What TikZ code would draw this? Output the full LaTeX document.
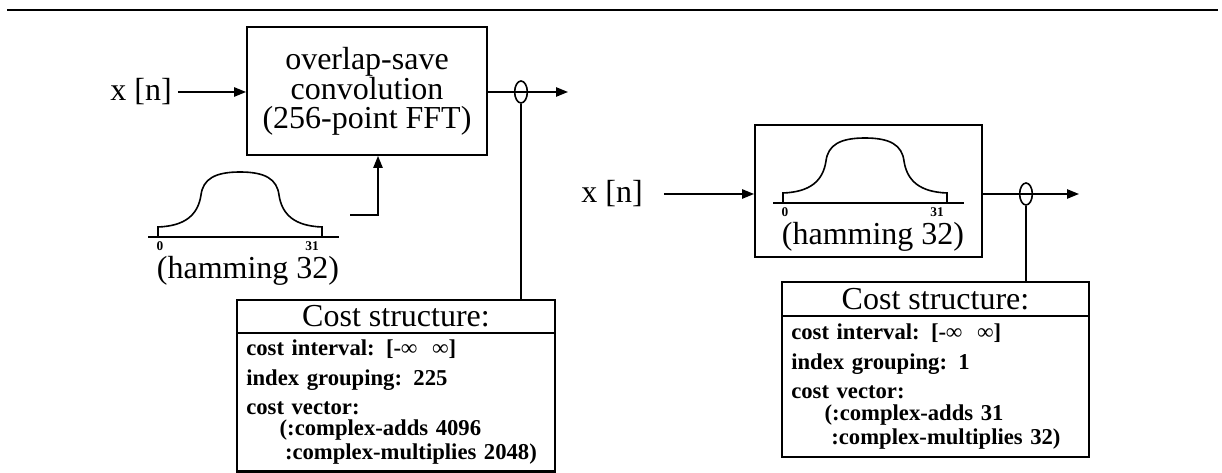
\documentclass[tikz,border=0pt]{standalone}
\usepackage{fontspec}
\setmainfont{Liberation Serif}
\usetikzlibrary{arrows.meta,shapes.geometric,positioning,calc}

\tikzset{
  wire/.style={line width=1.2pt},
  sig/.style={line width=1.2pt, -{Triangle[length=9pt,width=7pt]}},
  sigtext/.style={font=\fontsize{24}{24}\selectfont, inner sep=0pt},
  idx/.style={font=\bfseries\fontsize{10}{10}\selectfont, inner sep=0pt},
  blockbox/.style={draw, line width=1.4pt, align=center, inner sep=0pt,
    font=\fontsize{24}{21.5}\selectfont},
  tap/.style={draw, ellipse, line width=1.2pt, minimum width=9.5pt,
    minimum height=16.5pt, inner sep=0pt},
  costhead/.style={draw, line width=2pt, inner sep=0pt, outer sep=0pt,
    font=\fontsize{24}{24}\selectfont},
  costbody/.style={draw, line width=2pt, align=left, inner xsep=7pt,
    inner ysep=0pt, outer sep=0pt, font=\bfseries\fontsize{17}{16}\selectfont},
  % window shape, origin at middle of its base line
  hamming/.pic={
    \draw[wire] (-92,0) -- (99,0);
    \draw[wire] (-82,0) -- (-82,-10) .. controls (-55,-11) and (-42,-22) .. (-39,-42)
      .. controls (-37,-58) and (-25,-65) .. (0,-65)
      .. controls (25,-65) and (37,-58) .. (39,-42)
      .. controls (42,-22) and (55,-11) .. (82,-10) -- (82,0);
    \node[idx] (lo) at (-80,9) {0};
    \node[idx] (hi) at (72,9) {31};
    \node[sigtext] (lbl) at (8,34) {(hamming 32)};
  }
}

\begin{document}
\begin{tikzpicture}[x=0.75pt,y=-0.75pt]
  \useasboundingbox (0,0) rectangle (1222,473);
  % rule over the figure
  \draw[line width=2.2pt] (7,10) -- (1218,10);

  % overlap-save version
  \node[sigtext] (xin1) at (141,92) {x [n]};
  \node[blockbox, minimum width=180pt, minimum height=96pt] (conv) at (367,91)
    {overlap-save\\convolution\\(256-point FFT)};
  \draw[sig] ([xshift=4.5pt]xin1.east) -- (conv.west |- xin1.east);
  \coordinate (out1) at (568,92);
  \draw[sig] (conv.east |- out1) -- (out1);
  \node[tap] (tap1) at (521,92) {};
  \pic (win1) at (240,237) {hamming};
  \coordinate (feed1) at (350,215);
  \draw[sig] (feed1) -| ([xshift=8.25pt]conv.south);

  \node[costhead, minimum width=238.5pt, minimum height=24.75pt] (cost1) at (396,316.5)
    {Cost structure:};
  \node[costbody, below=0pt of cost1, text width=224.5pt, minimum height=104pt] (cost1b)
    {cost interval: [-∞~~∞]\\[6.5pt]
     index grouping: 225\\[5.75pt]
     cost vector:\\
     \hspace*{25pt}(:complex-adds 4096\\[2pt]
     \hspace*{29pt}:complex-multiplies 2048)};
  \draw[wire] (tap1.south) -- (cost1.north -| tap1.south);

  % direct windowing version
  \node[sigtext] (xin2) at (612,194) {x [n]};
  \node[draw, line width=1.4pt, minimum width=170.25pt, minimum height=99pt,
    inner sep=0pt] (fir) at (868.5,191) {};
  \draw[sig] ([xshift=15.75pt]xin2.east) -- (fir.west |- xin2.east);
  \pic (win2) at (865,203) {hamming};
  \coordinate (out2) at (1079,194);
  \draw[sig] (fir.east |- out2) -- (out2);
  \node[tap] (tap2) at (1026,194) {};

  \node[costhead, minimum width=230.25pt, minimum height=25.5pt] (cost2) at (935.5,299)
    {Cost structure:};
  \node[costbody, below=0pt of cost2, text width=216.25pt, minimum height=105.75pt] (cost2b)
    {cost interval: [-∞~~∞]\\[6.5pt]
     index grouping: 1\\[5.75pt]
     cost vector:\\
     \hspace*{25pt}(:complex-adds 31\\[2pt]
     \hspace*{30pt}:complex-multiplies 32)};
  \draw[wire] (tap2.south) -- (cost2.north -| tap2.south);
\end{tikzpicture}
\end{document}
